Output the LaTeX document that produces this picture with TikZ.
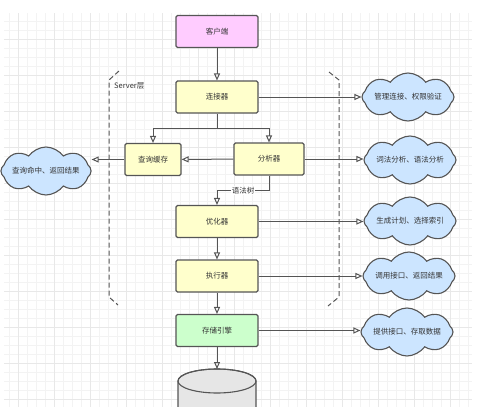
\documentclass[tikz,border=0pt]{standalone}
\usepackage{fontspec}
\setmainfont{Noto Sans CJK SC}
\usepackage{tikz}
\usetikzlibrary{
    arrows.meta,
    shapes.symbols,
    positioning
}
\definecolor{linegray}{HTML}{555555}
\definecolor{txtgray}{HTML}{333333}
\definecolor{boxpink}{HTML}{FFCCFF}
\definecolor{boxyellow}{HTML}{FFFFCC}
\definecolor{boxgreen}{HTML}{CCFFCC}
\definecolor{cloudblue}{HTML}{CCE5FF}
\definecolor{dbgray}{HTML}{E6E6E6}
\definecolor{gridminor}{HTML}{F3F3F3}
\definecolor{gridmajor}{HTML}{E8E8E8}

\begin{document}
\begin{tikzpicture}[x=1pt, y=-1pt, font=\fontsize{7.5}{9}\selectfont, text=txtgray,
    box/.style={draw=linegray, line width=1.1pt, rounded corners=1.5pt, fill=boxyellow,
        minimum width=82pt, minimum height=32pt, inner sep=1pt},
    cloudy/.style={cloud, cloud puffs=8, cloud puff arc=110, cloud ignores aspect, draw=linegray,
        line width=1.1pt, fill=cloudblue, minimum width=92pt, minimum height=48pt, inner sep=0pt},
    link/.style={draw=linegray, line width=1pt, -{Triangle[open, length=7pt, width=6pt]}},
    bracket/.style={draw=linegray, line width=1pt, dash pattern=on 5pt off 3pt}]
                                \useasboundingbox (0,0) rectangle (499,407);
                                % grid
                                \begin{scope}
                                \clip (4,13) rectangle (472,407);
                                \foreach \x in {9,18,...,468} \draw[gridminor, line width=0.6pt] (\x,13) -- (\x,407);
                                \foreach \y in {21,30,...,405} \draw[gridminor, line width=0.6pt] (4,\y) -- (472,\y);
                                \foreach \x in {18,54,...,468} \draw[gridmajor, line width=0.8pt] (\x,13) -- (\x,407);
                                \foreach \y in {39,75,...,405} \draw[gridmajor, line width=0.8pt] (4,\y) -- (472,\y);
                                \end{scope}
                                % server bracket
                                \draw[bracket] (119,71) -- (109,80) -- (109,297) -- (118,305);
                                \draw[bracket] (329,72) -- (339,80) -- (339,297) -- (328,306);
                                \node[anchor=west, inner sep=0pt] (server) at (114,86) {Server层};
                                % boxes
                                \node[box, fill=boxpink] (client) at (217,31.5) {客户端};
                                \node[box] (conn) at (217,97) {连接器};
                                \node[box, minimum width=56pt] (cache) at (153,159.5) {查询缓存};
                                \node[box, minimum width=70pt] (parser) at (269,159) {分析器};
                                \node[box] (optim) at (217,221.5) {优化器};
                                \node[box] (exec) at (217,276) {执行器};
                                \node[box, fill=boxgreen] (engine) at (217,330.5) {存储引擎};
                                \coordinate (split) at (217,128);
                                \coordinate (db) at (217,369);
                                % clouds
                                \node[cloudy, minimum width=86pt] (hit) at (46,171) {查询命中、返回结果};
                                \node[cloudy] (auth) at (408,97) {管理连接、权限验证};
                                \node[cloudy] (lex) at (410,160) {词法分析、语法分析};
                                \node[cloudy] (plan) at (410,221) {生成计划、选择索引};
                                \node[cloudy] (call) at (409,276) {调用接口、返回结果};
                                \node[cloudy] (store) at (407,332) {提供接口、存取数据};
                                % database
                                \filldraw[fill=dbgray, draw=linegray, line width=1.1pt]
                                (178,381) -- (178,420) -- (256,420) -- (256,381)
                                arc[start angle=0, end angle=-180, x radius=39, y radius=12];
                                \draw[linegray, line width=1.1pt] (217,381) ellipse[x radius=39, y radius=12];
                                % links
                                \draw[link] (client) -- (conn);
                                \draw[link] (conn) -- (split) -| (cache);
                                \draw[link] (split) -| (parser);
                                \draw[link] (parser) -- (cache);
                                \draw[link] (cache.west) -- (cache.west -| hit.east);
                                \draw[link] (parser.south) -- ++(0,15) -| (optim.north)
                                node[pos=0.25, fill=white, inner sep=1pt] (tree) {语法树};
                                \draw[link] (optim) -- (exec);
                                \draw[link] (exec) -- (engine);
                                \draw[link] (engine) -- (db);
                                \draw[link] (conn.east) -- (conn.east -| auth.west);
                                \draw[link] (parser.east) -- (parser.east -| lex.west);
                                \draw[link] (optim.east) -- (optim.east -| plan.west);
                                \draw[link] (exec.east) -- (exec.east -| call.west);
                                \draw[link] (engine.east) -- (engine.east -| store.west);
                            \end{tikzpicture}
\end{document}
